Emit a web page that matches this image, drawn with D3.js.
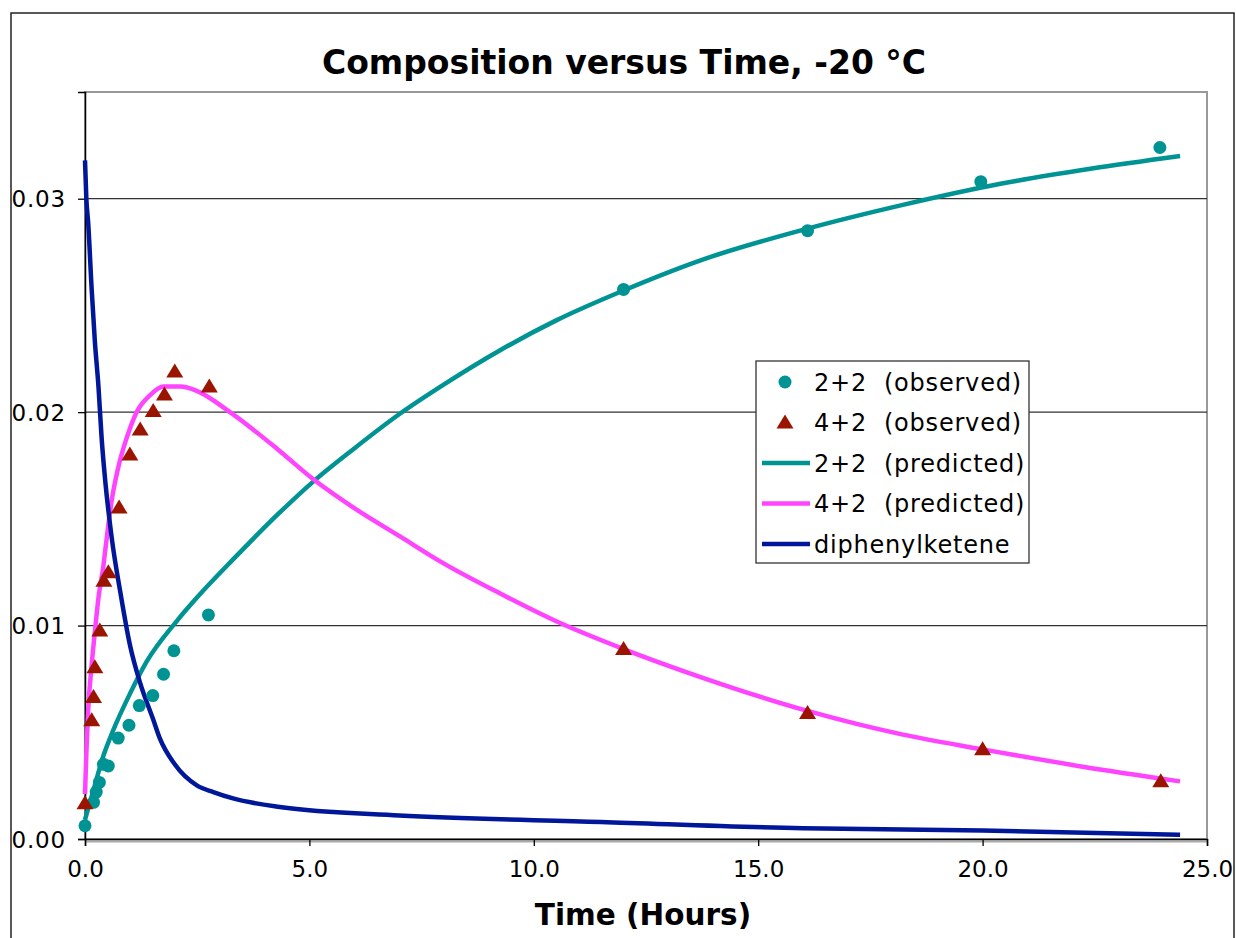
<!DOCTYPE html>
<html lang="en">
<head>
    <meta charset="utf-8">
    <title>Composition versus Time, -20 °C</title>
    <script src="https://d3js.org/d3.v7.min.js"></script>
    <style>
        body {
            margin: 0;
            background: white;
            font-family: 'DejaVu Sans', Verdana, sans-serif;
        }
        .tick text {
            font-family: 'DejaVu Sans', Verdana, sans-serif;
            font-size: 23px;
            fill: #000;
        }
        .legend-text {
            font-size: 24px;
            letter-spacing: 0.8px;
        }
    </style>
</head>
<body>
<div id="chart"></div>
<script>
    // observed points
    const obs22Time = [0, 0.19, 0.25, 0.32, 0.41, 0.52, 0.74, 0.98, 1.21, 1.51, 1.75, 1.98, 2.75, 12.0, 16.1, 19.96, 23.95];
    const obs22Val = [0.00062, 0.00172, 0.0022, 0.00265, 0.0035, 0.00342, 0.00473, 0.00533, 0.00625, 0.00672, 0.00772, 0.00882, 0.0105, 0.02575, 0.0285, 0.0308, 0.0324];

    const obs42Time = [0, 0.15, 0.19, 0.22, 0.33, 0.42, 0.52, 0.76, 1.0, 1.23, 1.52, 1.77, 2.0, 2.77, 12.0, 16.1, 20.0, 23.97];
    const obs42Val = [0.00167, 0.00556, 0.00665, 0.00805, 0.00977, 0.0121, 0.0125, 0.01553, 0.01802, 0.01919, 0.02005, 0.02083, 0.0219, 0.0212, 0.0089, 0.0059, 0.0042, 0.0027];

    // predicted curves
    const pred22Time = [0, 0.19, 0.41, 0.63, 1.0, 1.37, 2.04, 2.49, 3.3, 4.34, 5.06, 6.0, 7.0, 8.0, 9.25, 10.5, 12.0, 13.7, 16.1, 18.2, 20.4, 22.4, 24.4];
    const pred22Val = [0.0009, 0.0023, 0.0039, 0.0051, 0.0068, 0.0083, 0.0102, 0.0113, 0.0131, 0.0153, 0.0167, 0.0183, 0.0199, 0.0213, 0.0229, 0.0243, 0.0257, 0.0271, 0.0286, 0.0297, 0.0307, 0.0314, 0.0320];

    const pred42Time = [0, 0.03, 0.07, 0.15, 0.22, 0.3, 0.41, 0.45, 0.59, 0.74, 0.93, 1.15, 1.45, 1.75, 2.12, 2.49, 3.23, 4.27, 5.06, 6.0, 7.0, 8.0, 9.25, 10.5, 12.0, 13.7, 16.1, 18.2, 20.0, 22.2, 24.4];
    const pred42Val = [0.0021, 0.0040, 0.0060, 0.0082, 0.0097, 0.0113, 0.0128, 0.0135, 0.0158, 0.0174, 0.0188, 0.0200, 0.0208, 0.0212, 0.0212, 0.0210, 0.0200, 0.0183, 0.0169, 0.0155, 0.0142, 0.0129, 0.0115, 0.0102, 0.0089, 0.0076, 0.0060, 0.0049, 0.0042, 0.0034, 0.0027];

    const ketTime = [0, 0.03, 0.07, 0.15, 0.22, 0.3, 0.37, 0.45, 0.59, 0.8, 1.0, 1.23, 1.52, 1.67, 2.0, 2.5, 2.86, 3.3, 4.34, 7.0, 11.5, 16.0, 20.0, 24.4];
    const ketVal = [0.0318, 0.0300, 0.0289, 0.0257, 0.0233, 0.0212, 0.0188, 0.0168, 0.0142, 0.0114, 0.0091, 0.0073, 0.0056, 0.0047, 0.0035, 0.0025, 0.0022, 0.0019, 0.0015, 0.0011, 0.0008, 0.0005, 0.0004, 0.0002];

    const xTicks = [0, 5, 10, 15, 20, 25];
    const yTicks = [0, 0.01, 0.02, 0.03];

    const legendLabels = ["2+2 (observed)", "4+2 (observed)", "2+2 (predicted)", "4+2 (predicted)", "diphenylketene"];

    const teal = "#009393";
    const magenta = "#ff44ff";
    const navy = "#00179a";
    const darkRed = "#9a1400";

    const W = 1236, H = 938;
    const margin = {top: 92, right: 29, bottom: 99, left: 85};
    const width = W - margin.left - margin.right;
    const height = H - margin.top - margin.bottom;

    const root = d3.select("#chart")
        .append("svg")
        .attr("width", W)
        .attr("height", H);

    // outer chart border
    root.append("rect")
        .attr("x", 11)
        .attr("y", 13)
        .attr("width", 1223)
        .attr("height", 940)
        .attr("fill", "none")
        .attr("stroke", "#222")
        .attr("stroke-width", 1.5);

    root.append("text")
        .attr("x", 624)
        .attr("y", 74)
        .attr("text-anchor", "middle")
        .style("font-weight", "bold")
        .style("font-size", "33px")
        .text("Composition versus Time, -20 °C");

    const svg = root.append("g")
        .attr("transform", `translate(${margin.left},${margin.top})`);

    const x = d3.scaleLinear().domain([0, 25]).range([0, width]);
    const y = d3.scaleLinear().domain([0, 0.035]).range([height, 0]);

    // plot frame (gray top / right)
    svg.append("rect")
        .attr("width", width)
        .attr("height", height)
        .attr("fill", "white")
        .attr("stroke", "#999")
        .attr("stroke-width", 2);

    // gridlines
    svg.selectAll(".grid")
        .data(yTicks.filter(d => d > 0))
        .enter()
        .append("line")
        .attr("x1", 0)
        .attr("x2", width)
        .attr("y1", d => y(d))
        .attr("y2", d => y(d))
        .attr("stroke", "#333")
        .attr("stroke-width", 1.3);

    // shadow under x axis
    svg.append("line")
        .attr("x1", 0).attr("x2", width)
        .attr("y1", height + 2.5).attr("y2", height + 2.5)
        .attr("stroke", "#aaa")
        .attr("stroke-width", 2);

    const xAxis = svg.append("g")
        .attr("transform", `translate(0,${height})`)
        .call(d3.axisBottom(x).tickValues(xTicks).tickFormat(d3.format(".1f")).tickSizeOuter(0).tickSize(7).tickPadding(15));

    const yAxis = svg.append("g")
        .call(d3.axisLeft(y).tickValues(yTicks).tickFormat(d3.format(".2f")).tickSizeOuter(0).tickSize(7).tickPadding(12));

    [xAxis, yAxis].forEach(a => {
        a.select(".domain").attr("stroke", "#000").attr("stroke-width", 1.5);
        a.selectAll(".tick line").attr("stroke", "#000").attr("stroke-width", 1.3);
    });
    xAxis.selectAll(".tick text").attr("dy", "0.71em");
    yAxis.selectAll(".tick text").attr("dy", "0.36em").style("letter-spacing", "0.8px");

    // x axis label
    root.append("text")
        .attr("x", 643)
        .attr("y", 925)
        .attr("text-anchor", "middle")
        .style("font-weight", "bold")
        .style("font-size", "29.5px")
        .text("Time (Hours)");

    const line = d3.line()
        .x(d => x(d[0]))
        .y(d => y(d[1]))
        .curve(d3.curveMonotoneX);

    const series = [
        {t: pred22Time, v: pred22Val, color: teal},
        {t: pred42Time, v: pred42Val, color: magenta},
        {t: ketTime, v: ketVal, color: navy}
    ];

    series.forEach(s => {
        svg.append("path")
            .datum(s.t.map((t, i) => [t, s.v[i]]))
            .attr("fill", "none")
            .attr("stroke", s.color)
            .attr("stroke-width", 4.5)
            .attr("d", line);
    });

    const triPath = "M0,-8L8.5,6L-8.5,6Z";

    svg.selectAll(".obs22")
        .data(obs22Time.map((t, i) => [t, obs22Val[i]]))
        .enter()
        .append("circle")
        .attr("cx", d => x(d[0]))
        .attr("cy", d => y(d[1]))
        .attr("r", 6.5)
        .attr("fill", teal);

    svg.selectAll(".obs42")
        .data(obs42Time.map((t, i) => [t, obs42Val[i]]))
        .enter()
        .append("path")
        .attr("d", triPath)
        .attr("transform", d => `translate(${x(d[0])},${y(d[1])})`)
        .attr("fill", darkRed);

    // legend
    const legend = root.append("g").attr("transform", "translate(756,361)");

    legend.append("rect")
        .attr("width", 273)
        .attr("height", 202)
        .attr("fill", "white")
        .attr("stroke", "#333")
        .attr("stroke-width", 1.3);

    const rowY = i => 21 + i * 40.5;

    legend.append("circle").attr("cx", 29).attr("cy", rowY(0)).attr("r", 6.5).attr("fill", teal);
    legend.append("path").attr("d", triPath).attr("transform", `translate(29,${rowY(1)})`).attr("fill", darkRed);
    [teal, magenta, navy].forEach((c, i) => {
        legend.append("line")
            .attr("x1", 6).attr("x2", 54)
            .attr("y1", rowY(i + 2)).attr("y2", rowY(i + 2))
            .attr("stroke", c)
            .attr("stroke-width", 4.5);
    });

    legend.selectAll(".legend-text")
        .data(legendLabels)
        .enter()
        .append("text")
        .attr("class", "legend-text")
        .attr("x", 58)
        .attr("y", (d, i) => rowY(i))
        .attr("dy", "0.36em")
        .style("white-space", "pre")
        .text(d => d.replace(" ", "\u00a0\u00a0"));
</script>
</body>
</html>
